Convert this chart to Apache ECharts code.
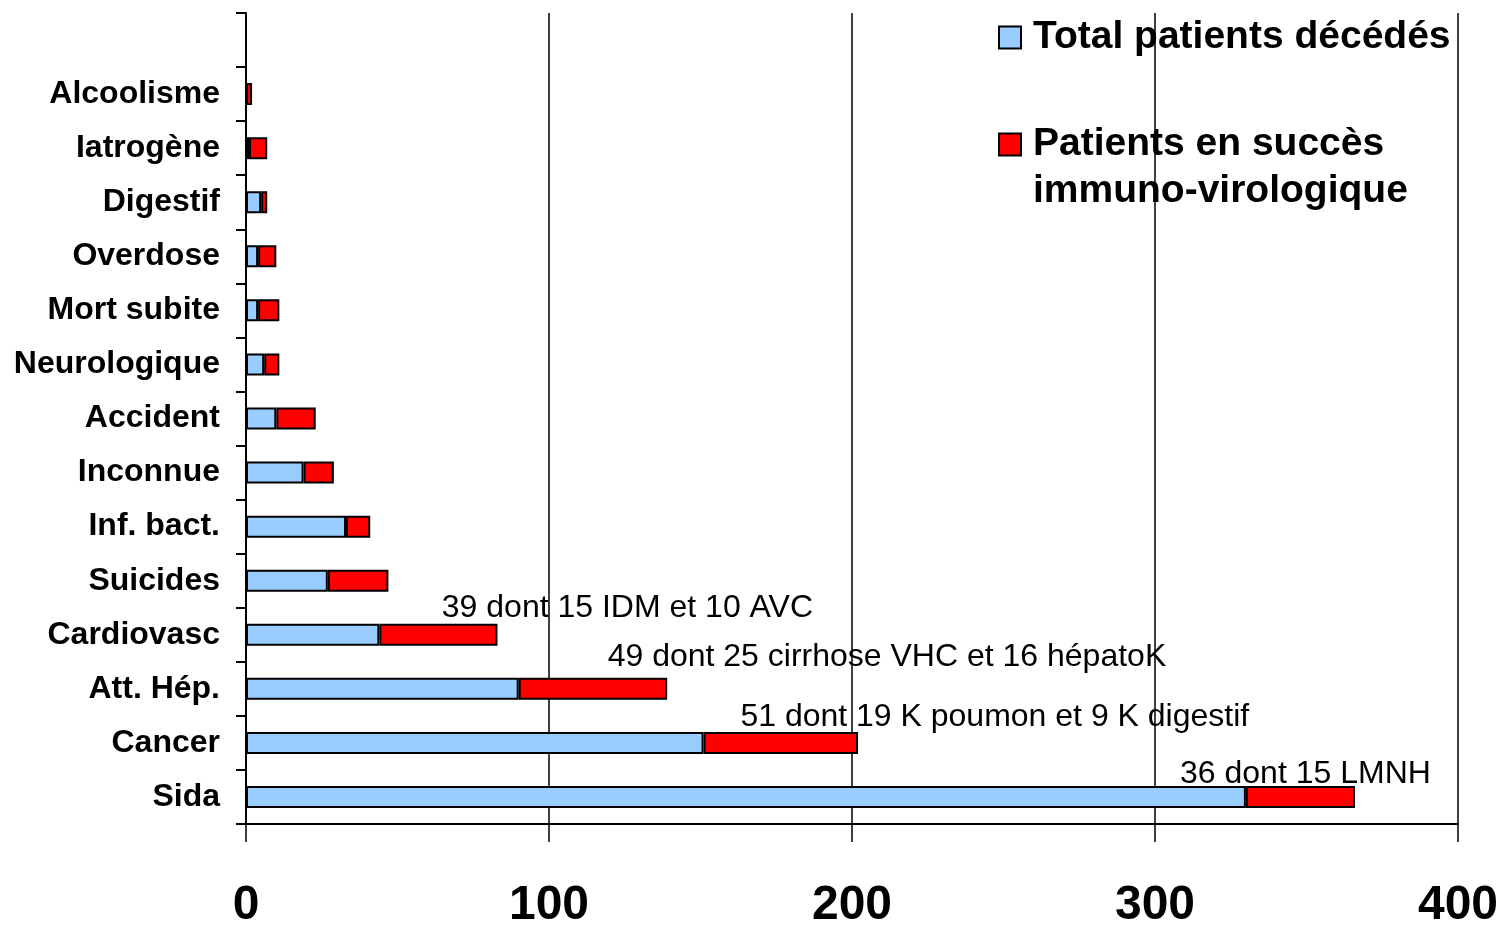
<!DOCTYPE html>
<html>
<head>
<meta charset="utf-8">
<script src="https://cdn.jsdelivr.net/npm/echarts@6/dist/echarts.min.js"></script>
<style>
html,body{margin:0;padding:0;background:#fff;}
#chart{width:1499px;height:925px;}
</style>
</head>
<body>
<div id="chart"></div>
<script>
// Categories, top to bottom (first band is empty in the reference)
const categories = ['', 'Alcoolisme', 'Iatrogène', 'Digestif', 'Overdose', 'Mort subite', 'Neurologique', 'Accident', 'Inconnue', 'Inf. bact.', 'Suicides', 'Cardiovasc', 'Att. Hép.', 'Cancer', 'Sida'];
const totalValues = [null, 0, 1, 5, 4, 4, 6, 10, 19, 33, 27, 44, 90, 151, 330];
const successValues = [null, 2, 6, 2, 6, 7, 5, 13, 10, 8, 20, 39, 49, 51, 36];
const annotations = ['', '', '', '', '', '', '', '', '', '', '', '39 dont 15 IDM et 10 AVC', '49 dont 25 cirrhose VHC et 16 hépatoK', '51 dont 19 K poumon et 9 K digestif', '36 dont 15 LMNH'];
const annotationOffsets = [null, null, null, null, null, null, null, null, null, null, null, [189, 2], [294, -3], [214, 3], [5, 6]];
const xTicks = [0, 100, 200, 300, 400];
const seriesNames = ['Total patients décédés', 'Patients en succès immuno-virologique'];

const chart = echarts.init(document.getElementById('chart'));
const successData = successValues.map((v, i) => {
  const item = { value: v };
  if (annotations[i]) {
    item.label = { show: true, formatter: annotations[i], offset: annotationOffsets[i] };
  }
  return item;
});

chart.setOption({
  animation: false,
  backgroundColor: '#fff',
  grid: { left: 246, right: 41, top: 13, bottom: 101, containLabel: false, outerBoundsMode: 'none' },
  legend: {
    orient: 'vertical',
    left: 998,
    top: 18,
    padding: 0,
    icon: 'rect',
    itemWidth: 22,
    itemHeight: 22,
    itemGap: 21,
    data: seriesNames,
    formatter: function (name) {
      if (name === seriesNames[1]) return '{e| }\n{a|Patients en succès}\n{a|immuno-virologique}';
      return '{a|' + name + '}';
    },
    textStyle: {
      rich: {
        a: { fontFamily: 'Liberation Sans, Arial, sans-serif', fontWeight: 'bold', fontSize: 39, lineHeight: 47, color: '#000', padding: [0, 0, 0, 7] },
        e: { fontSize: 39, lineHeight: 47 }
      }
    }
  },
  xAxis: {
    type: 'value',
    min: 0, max: 400, interval: 100,
    axisLine: { show: true, lineStyle: { color: '#000', width: 2 } },
    axisTick: { show: true, length: 18, lineStyle: { color: '#000', width: 1.5 } },
    splitLine: { show: true, lineStyle: { color: '#000', width: 1.5 } },
    axisLabel: {
      margin: 58,
      color: '#000',
      fontFamily: 'Liberation Sans Narrow, Arial Narrow, Liberation Sans, sans-serif',
      fontWeight: 'bold',
      fontSize: 48,
      formatter: v => xTicks.indexOf(v) >= 0 ? String(v) : ''
    }
  },
  yAxis: {
    type: 'category',
    inverse: true,
    data: categories,
    axisLine: { show: true, lineStyle: { color: '#000', width: 2 } },
    axisTick: { show: true, length: 10, lineStyle: { color: '#000', width: 2 } },
    axisLabel: {
      margin: 26,
      color: '#000',
      fontFamily: 'Liberation Sans, Arial, sans-serif',
      fontWeight: 'bold',
      fontSize: 32
    },
    splitLine: { show: false }
  },
  series: [
    {
      name: seriesNames[0],
      type: 'bar',
      stack: 'a',
      barWidth: 22,
      itemStyle: { color: '#99CCFF', borderColor: '#000', borderWidth: 2 },
      data: totalValues
    },
    {
      name: seriesNames[1],
      type: 'bar',
      stack: 'a',
      barWidth: 22,
      itemStyle: { color: '#FF0000', borderColor: '#000', borderWidth: 2 },
      label: {
        show: false,
        position: 'top',
        distance: 2,
        color: '#000',
        fontFamily: 'Liberation Sans, Arial, sans-serif',
        fontSize: 32
      },
      data: successData
    }
  ]
});
</script>
</body>
</html>
